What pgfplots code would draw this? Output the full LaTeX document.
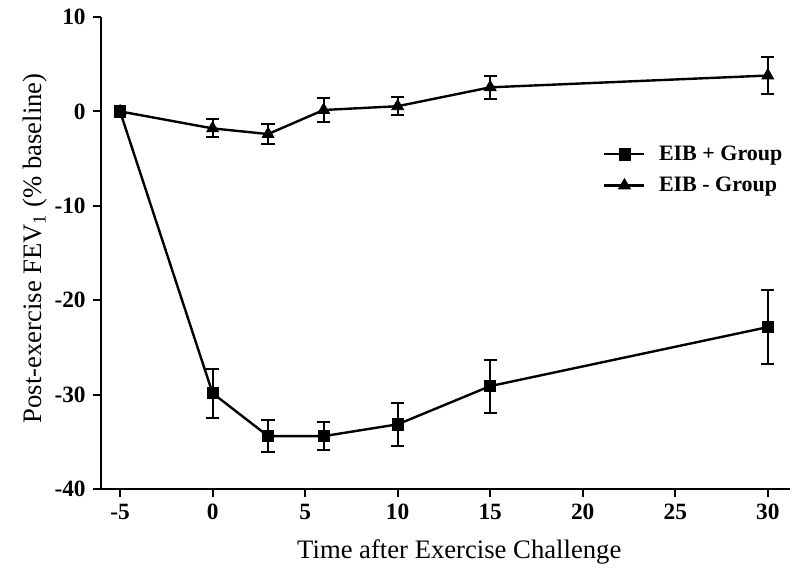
\documentclass[border=0pt]{standalone}
\usepackage{pgfplots}
\pgfplotsset{compat=1.18}
\usepackage{pgfplotstable}
\usepackage{fontspec}
\setmainfont{Liberation Serif}

\pgfplotstableread{
x y e
-5 0 0
0 -29.85 2.6
3 -34.4 1.7
6 -34.4 1.5
10 -33.15 2.25
15 -29.1 2.8
30 -22.85 3.9
}\plusdata
\pgfplotstableread{
x y e
-5 0 0
0 -1.8 0.95
3 -2.4 1.05
6 0.15 1.27
10 0.55 0.95
15 2.55 1.25
30 3.8 1.95
}\minusdata
\pgfplotstableread{
x y e
0 -29.85 2.6
3 -34.4 1.7
6 -34.4 1.5
10 -33.15 2.25
15 -29.1 2.8
30 -22.85 3.9
}\plusbars
\pgfplotstableread{
x y e
0 -1.8 0.95
3 -2.4 1.05
6 0.15 1.27
10 0.55 0.95
15 2.55 1.25
30 3.8 1.95
}\minusbars

\begin{document}
\begin{tikzpicture}
\begin{axis}[
  scale only axis,
  width=516.75pt, height=354pt,
  xmin=-6.03, xmax=31.2, ymin=-40, ymax=10,
  axis x line*=bottom, axis y line*=left,
  axis line style={line width=1.8pt, -},
  xtick={-5,0,5,10,15,20,25,30},
  xticklabels={-5,0,5,10,15,20,25,30},
  ytick={-40,-30,-20,-10,0,10},
  yticklabels={-40,-30,-20,-10,0,10},
  tick align=outside,
  major tick length=6pt,
  tick style={line width=1.5pt, black},
  ticklabel style={font=\fontsize{17.5}{17.5}\selectfont\bfseries},
  xticklabel style={yshift=-2pt},
  yticklabel style={xshift=-2pt},
  xlabel={Time after Exercise Challenge},
  ylabel={Post-exercise FEV\textsubscript{1} (\% baseline)},
  label style={font=\fontsize{20}{20}\selectfont},
  x label style={at={(axis description cs:0.52,-0.133)}, anchor=center},
  y label style={at={(axis description cs:-0.0958,0.51)}, anchor=center},
  legend style={at={(axis description cs:0.7286,0.733)}, anchor=north west,
    draw=none, fill=none, inner sep=0pt,
    font=\fontsize{16.5}{16.5}\selectfont\bfseries,
    row sep=7pt,
    /tikz/every odd column/.append style={column sep=8pt}},
  legend cell align=left,
  legend image code/.code={\draw[mark repeat=2,mark phase=2] plot coordinates {(0pt,0pt) (15pt,0pt) (30pt,0pt)};},
  clip=false,
]
\coordinate (O) at (rel axis cs:0,0);
\addplot[black, line width=1.8pt, mark=square*, mark size=4.2pt, mark options={solid, line width=0.5pt}] table[x=x,y=y] {\plusdata};
\addlegendentry{EIB + Group}
\addplot[black, line width=1.8pt, mark=triangle*, mark size=5.2pt, mark options={solid, line width=0.5pt}] table[x=x,y=y] {\minusdata};
\addlegendentry{EIB - Group}
\addplot[black, only marks, mark=none, forget plot,
  error bars/.cd, y dir=both, y explicit,
  error bar style={line width=1.5pt, black},
  error mark options={rotate=90, mark size=5pt, line width=1.5pt, black}]
  table[x=x,y=y,y error=e] {\plusbars};
\addplot[black, only marks, mark=none, forget plot,
  error bars/.cd, y dir=both, y explicit,
  error bar style={line width=1.5pt, black},
  error mark options={rotate=90, mark size=5pt, line width=1.5pt, black}]
  table[x=x,y=y,y error=e] {\minusbars};
\end{axis}
\path (O) ++(-75.75pt,-62.25pt) rectangle ++(603pt,429pt);
\end{tikzpicture}
\end{document}
